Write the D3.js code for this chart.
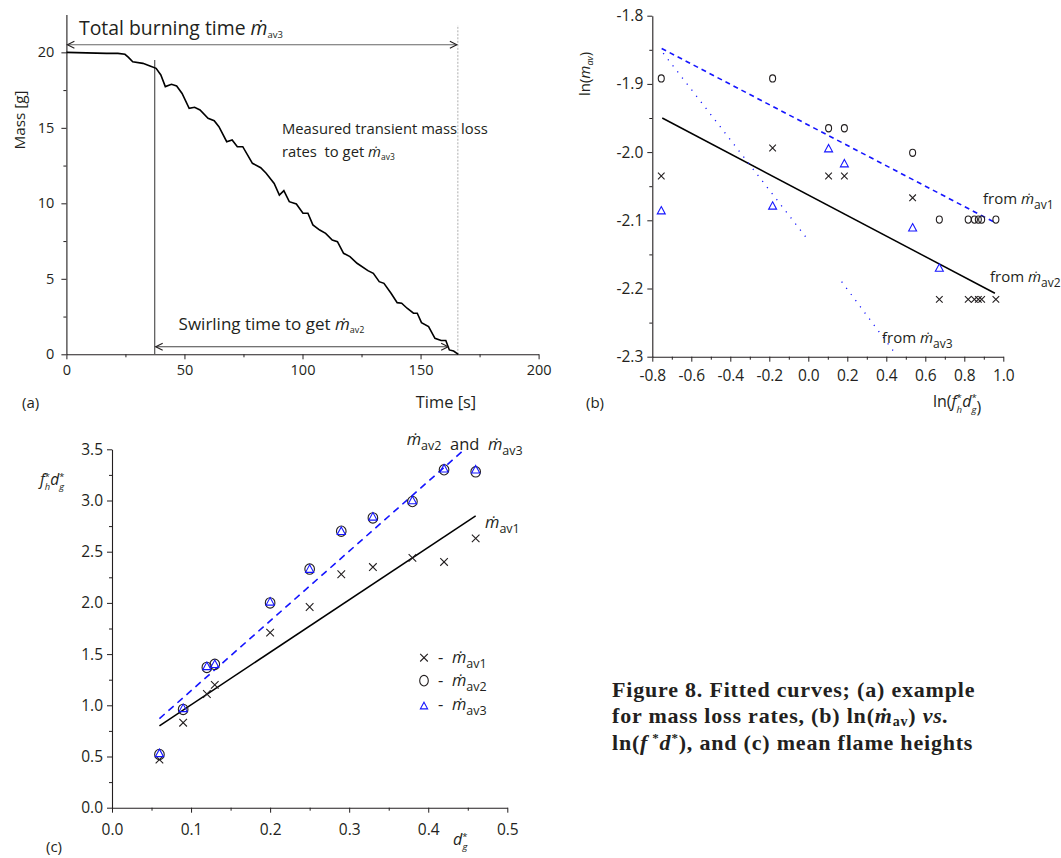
<!DOCTYPE html>
<html>
<head>
<meta charset="utf-8">
<script src="https://cdn.jsdelivr.net/npm/d3@7"></script>
<style>
  html, body { margin: 0; padding: 0; background: #fff; }
  text { white-space: pre; }
</style>
</head>
<body>
<script>
// ---------- data ----------
// (a) mass history of one test
var massTime  = [0, 17, 21.8, 24.8, 26.3, 28.1, 32.4, 35.4, 38, 40, 41.9, 44.5, 46.7, 49, 52, 54.3, 56.6, 60, 62.6, 64.6, 67.9, 70.2, 72.4, 74.7, 78.8, 82.3, 84.6, 88, 90.2, 92.1, 94.4, 97.4, 100.2, 102.3, 104.4, 107.3, 109.8, 112.6, 114.8, 117.4, 120.1, 123.1, 127.7, 130, 132.5, 134.5, 137.5, 140.1, 142, 144.3, 147, 148.6, 150.4, 153.4, 156.1, 158.7, 160.7, 162.2, 164, 166];
var massValue = [20, 19.93, 19.93, 19.87, 19.67, 19.38, 19.27, 19.1, 18.94, 18.5, 17.73, 17.88, 17.77, 17.28, 16.29, 16.36, 16.18, 15.63, 15.47, 15.08, 14.08, 14.2, 13.75, 13.75, 12.65, 12.36, 11.99, 11.32, 10.55, 10.84, 10.11, 9.96, 9.34, 9.34, 8.57, 8.23, 8.01, 7.57, 7.46, 6.69, 6.47, 6.03, 5.54, 5.36, 4.81, 4.7, 4.04, 3.42, 3.38, 3.05, 2.72, 2.72, 2.1, 1.83, 1.06, 0.91, 0.91, 0.29, 0.22, 0];
var swirlStart = 37.4, swirlEnd = 161.7, burnEnd = 165.8;
var swirlTop = 19.5, burnArrowMass = 20.5, swirlArrowMass = 0.5, burnLineTop = 21.8;

// (b) ln(m_av) vs ln(fh* dg*)
var lnFD      = [-0.754, -0.183, 0.104, 0.185, 0.535, 0.672, 0.820, 0.852, 0.872, 0.889, 0.962];
var lnAv1     = [-2.035, -1.994, -2.035, -2.035, -2.067, -2.216, -2.216, -2.216, -2.216, -2.216, -2.216];
var lnAv2     = [-1.892, -1.892, -1.965, -1.965, -2.001, -2.099, -2.099, -2.099, -2.099, -2.099, -2.099];
var lnAv3     = [-2.086, -2.079, -1.995, -2.017, -2.111, -2.170];
var fitB1     = [[-0.749, -1.950], [0.957, -2.207]];
var fitB2     = [[-0.752, -1.848], [0.949, -2.102]];
var fitB3a    = [[-0.744, -1.855], [-0.009, -2.126]];
var fitB3b    = [[0.171, -2.190], [0.453, -2.298]];

// (c) fh* dg* vs dg*
var dg        = [0.06, 0.09, 0.12, 0.13, 0.20, 0.25, 0.29, 0.33, 0.38, 0.42, 0.46];
var fdAv1     = [0.47, 0.83, 1.11, 1.20, 1.71, 1.96, 2.28, 2.35, 2.44, 2.40, 2.63];
var fdAv2     = [0.52, 0.96, 1.37, 1.40, 2.00, 2.33, 2.70, 2.83, 2.99, 3.30, 3.28];
var fdAv3     = [0.53, 0.97, 1.38, 1.40, 2.01, 2.33, 2.70, 2.84, 3.00, 3.31, 3.30];
var fitC1     = [[0.06, 0.80], [0.46, 2.85]];
var fitC2     = [[0.06, 0.87], [0.446, 3.5]];

var FONT = "'Open Sans', 'Noto Sans', sans-serif";
var INK  = "#231f20";
var BLUE = "#1515ff";

var svg = d3.select("body").append("svg")
    .attr("width", 1061)
    .attr("height", 858)
    .style("font-family", FONT);

// open arrow head
svg.append("defs").append("marker")
    .attr("id", "arrow")
    .attr("viewBox", "-8 -5 10 10")
    .attr("markerUnits", "userSpaceOnUse")
    .attr("markerWidth", 10).attr("markerHeight", 10)
    .attr("refX", 0).attr("refY", 0)
    .attr("orient", "auto-start-reverse")
    .append("path")
    .attr("d", "M-7,-3.5 L0,0 L-7,3.5")
    .attr("fill", "none")
    .attr("stroke", INK)
    .attr("stroke-width", 1.1);

// axes with major + minor ticks
function drawAxes(g, x, y, o) {
    g.append("g").attr("transform", "translate(0," + y.range()[0] + ")")
        .call(d3.axisBottom(x).tickValues(o.xMajor).tickFormat(o.xFmt).tickSize(5).tickSizeOuter(0).tickPadding(o.xPad));
    g.append("g").attr("transform", "translate(0," + y.range()[0] + ")")
        .call(d3.axisBottom(x).tickValues(o.xMinor).tickFormat("").tickSize(3))
        .select(".domain").remove();
    g.append("g").attr("transform", "translate(" + x.range()[0] + ",0)")
        .call(d3.axisLeft(y).tickValues(o.yMajor).tickFormat(o.yFmt).tickSize(5).tickSizeOuter(0).tickPadding(o.yPad));
    g.append("g").attr("transform", "translate(" + x.range()[0] + ",0)")
        .call(d3.axisLeft(y).tickValues(o.yMinor).tickFormat("").tickSize(3))
        .select(".domain").remove();
    g.selectAll(".domain").attr("stroke", INK).attr("stroke-width", 1.1);
    g.selectAll(".tick line").attr("stroke", INK);
    g.selectAll(".tick text").attr("fill", INK).style("font-family", FONT).style("font-size", o.fs + "px")
        .text(function() { return this.textContent.replace("−", "-"); });
}

// text with dotted m and subscript
function mdot(t, sub, fs, subFs, dy) {
    t.append("tspan").style("font-style", "italic").text("ṁ");
    t.append("tspan").attr("dy", dy).style("font-size", subFs + "px").text(sub);
    t.append("tspan").attr("dy", -dy).style("font-size", fs + "px").text("");
}

function label(g, x, y, fs) {
    return g.append("text").attr("x", x).attr("y", y).attr("fill", INK).style("font-size", fs + "px");
}

// ---------- (a) ----------
var ga = svg.append("g");
var xa = d3.scaleLinear().domain([0, 200]).range([66.4, 538.6]);
var ya = d3.scaleLinear().domain([0, 22.5]).range([354.3, 14.6]);

drawAxes(ga, xa, ya, {
    xMajor: [0, 50, 100, 150, 200], xMinor: [25, 75, 125, 175], xFmt: d3.format("d"), xPad: 5,
    yMajor: [0, 5, 10, 15, 20], yMinor: [2.5, 7.5, 12.5, 17.5], yFmt: d3.format("d"), yPad: 7, fs: 14.5
});

ga.append("line")
    .attr("x1", xa(burnEnd)).attr("x2", xa(burnEnd))
    .attr("y1", ya(0)).attr("y2", ya(burnLineTop))
    .attr("stroke", "#9a9a9a").attr("stroke-width", 0.8).attr("stroke-dasharray", "2,1.5");

ga.append("line")
    .attr("x1", xa(swirlStart)).attr("x2", xa(swirlStart))
    .attr("y1", ya(0)).attr("y2", ya(swirlTop))
    .attr("stroke", "#555").attr("stroke-width", 1.2);

ga.append("path")
    .datum(massTime.map(function(t, i) { return [t, massValue[i]]; }))
    .attr("d", d3.line().x(function(d) { return xa(d[0]); }).y(function(d) { return ya(d[1]); }))
    .attr("fill", "none").attr("stroke", "#000").attr("stroke-width", 1.6);

ga.append("line")
    .attr("x1", xa(0) + 1).attr("x2", xa(burnEnd) - 1)
    .attr("y1", ya(burnArrowMass)).attr("y2", ya(burnArrowMass))
    .attr("stroke", "#666").attr("stroke-width", 1.1)
    .attr("marker-start", "url(#arrow)").attr("marker-end", "url(#arrow)");

ga.append("line")
    .attr("x1", xa(swirlStart) + 1).attr("x2", xa(swirlEnd))
    .attr("y1", ya(swirlArrowMass)).attr("y2", ya(swirlArrowMass))
    .attr("stroke", "#444").attr("stroke-width", 1.1)
    .attr("marker-start", "url(#arrow)").attr("marker-end", "url(#arrow)");

var t = label(ga, 79, 35, 19.4);
t.append("tspan").text("Total burning time ");
mdot(t, "av3", 19.4, 9.5, 3);

label(ga, 282, 133.5, 14.8).text("Measured transient mass loss");
t = label(ga, 282, 157, 14.8);
t.append("tspan").text("rates  to get ");
mdot(t, "av3", 14.8, 8.5, 3);

t = label(ga, 178.6, 330, 17);
t.append("tspan").text("Swirling time to get ");
mdot(t, "av2", 17, 9, 3);

label(ga, 0, 0, 15.3).attr("transform", "translate(25,120) rotate(-90)").attr("text-anchor", "middle").text("Mass [g]");
label(ga, 446, 408, 16.4).attr("text-anchor", "middle").text("Time [s]");
label(ga, 22, 408, 15).text("(a)");

// ---------- (b) ----------
var gb = svg.append("g");
var xb = d3.scaleLinear().domain([-0.8, 1.0]).range([652.3, 1003.3]);
var yb = d3.scaleLinear().domain([-2.3, -1.8]).range([356.7, 15.7]);

drawAxes(gb, xb, yb, {
    xMajor: d3.range(-0.8, 1.01, 0.2), xMinor: d3.range(-0.7, 1.0, 0.2), xFmt: d3.format(".1f"), xPad: 8,
    yMajor: [-2.3, -2.2, -2.1, -2.0, -1.9, -1.8], yMinor: [-2.25, -2.15, -2.05, -1.95, -1.85], yFmt: d3.format(".1f"), yPad: 4, fs: 15.5
});

var lineB = d3.line().x(function(d) { return xb(d[0]); }).y(function(d) { return yb(d[1]); });
gb.append("path").attr("d", lineB(fitB1)).attr("fill", "none").attr("stroke", "#000").attr("stroke-width", 1.5);
gb.append("path").attr("d", lineB(fitB2)).attr("fill", "none").attr("stroke", BLUE).attr("stroke-width", 1.6).attr("stroke-dasharray", "5,4");
[fitB3a, fitB3b].forEach(function(seg) {
    gb.append("path").attr("d", lineB(seg)).attr("fill", "none").attr("stroke", BLUE)
        .attr("stroke-width", 1.3).attr("stroke-dasharray", "1.2,6.5");
});

// markers
function cross(g, cx, cy, r, col) {
    g.append("path").attr("d", "M" + (cx - r) + "," + (cy - r) + "L" + (cx + r) + "," + (cy + r) + "M" + (cx - r) + "," + (cy + r) + "L" + (cx + r) + "," + (cy - r))
        .attr("stroke", col).attr("stroke-width", 1.1).attr("fill", "none");
}
function ring(g, cx, cy, rx, ry, col) {
    g.append("ellipse").attr("cx", cx).attr("cy", cy).attr("rx", rx).attr("ry", ry)
        .attr("stroke", col).attr("stroke-width", 1.1).attr("fill", "none");
}
function tri(g, cx, cy, r, col) {
    g.append("path").attr("d", "M" + cx + "," + (cy - r) + "L" + (cx + r * 0.95) + "," + (cy + r * 0.75) + "L" + (cx - r * 0.95) + "," + (cy + r * 0.75) + "Z")
        .attr("stroke", col).attr("stroke-width", 1.1).attr("fill", "none");
}

lnFD.forEach(function(v, i) {
    cross(gb, xb(v), yb(lnAv1[i]), 3.3, INK);
    ring(gb, xb(v), yb(lnAv2[i]), 3, 3.6, INK);
});
lnAv3.forEach(function(v, i) { tri(gb, xb(lnFD[i]), yb(v), 4.2, BLUE); });

t = label(gb, 983, 204, 15); t.append("tspan").text("from "); mdot(t, "av1", 15, 12, 5);
t = label(gb, 990, 282, 15); t.append("tspan").text("from "); mdot(t, "av2", 15, 12, 5);
t = label(gb, 882, 343, 15); t.append("tspan").text("from "); mdot(t, "av3", 15, 12, 5);

t = label(gb, 0, 0, 15).attr("transform", "translate(590,74) rotate(-90)").attr("text-anchor", "middle");
t.append("tspan").text("ln(");
t.append("tspan").style("font-style", "italic").text("m");
t.append("tspan").attr("dy", 3).style("font-size", "9px").style("font-style", "italic").text("av");
t.append("tspan").attr("dy", -3).text(")");

function fhdg(t, fs) {
    var s = fs * 0.6;
    t.append("tspan").style("font-style", "italic").text("f");
    t.append("tspan").attr("dy", -fs * 0.35).style("font-size", s + "px").text("*");
    t.append("tspan").attr("dx", -s * 0.55).attr("dy", fs * 0.7).style("font-size", s + "px").style("font-style", "italic").text("h");
    t.append("tspan").attr("dy", -fs * 0.35).style("font-style", "italic").text("d");
    t.append("tspan").attr("dy", -fs * 0.35).style("font-size", s + "px").text("*");
    t.append("tspan").attr("dx", -s * 0.55).attr("dy", fs * 0.7).style("font-size", s + "px").style("font-style", "italic").text("g");
    t.append("tspan").attr("dy", -fs * 0.35).text("");
}
t = label(gb, 933, 407, 16);
t.append("tspan").text("ln(");
fhdg(t, 16);
t.append("tspan").text(")");
label(gb, 586, 408, 15).text("(b)");

// ---------- (c) ----------
var gc = svg.append("g");
var xc = d3.scaleLinear().domain([0, 0.5]).range([112, 507.3]);
var yc = d3.scaleLinear().domain([0, 3.5]).range([807.7, 449.3]);

drawAxes(gc, xc, yc, {
    xMajor: [0, 0.1, 0.2, 0.3, 0.4, 0.5], xMinor: [0.05, 0.15, 0.25, 0.35, 0.45], xFmt: d3.format(".1f"), xPad: 11,
    yMajor: [0, 0.5, 1, 1.5, 2, 2.5, 3, 3.5], yMinor: [0.25, 0.75, 1.25, 1.75, 2.25, 2.75, 3.25], yFmt: d3.format(".1f"), yPad: 4, fs: 15.5
});

var lineC = d3.line().x(function(d) { return xc(d[0]); }).y(function(d) { return yc(d[1]); });
gc.append("path").attr("d", lineC(fitC1)).attr("fill", "none").attr("stroke", "#000").attr("stroke-width", 1.5);
gc.append("path").attr("d", lineC(fitC2)).attr("fill", "none").attr("stroke", BLUE).attr("stroke-width", 1.6).attr("stroke-dasharray", "7,5");

dg.forEach(function(v, i) {
    cross(gc, xc(v), yc(fdAv1[i]), 3.8, INK);
    ring(gc, xc(v), yc(fdAv2[i]), 4.8, 5.2, INK);
    tri(gc, xc(v), yc(fdAv3[i]), 4.3, BLUE);
});

t = label(gc, 406.7, 445, 16.5); mdot(t, "av2", 16.5, 12.5, 5);
t.append("tspan").text("  and  "); mdot(t, "av3", 16.5, 12.5, 5);
t = label(gc, 485, 528.3, 16.5); mdot(t, "av1", 16.5, 12.5, 5);

// legend
var legendY = [657.7, 680.7, 705];
cross(gc, 424, legendY[0], 3.8, INK);
ring(gc, 424, legendY[1], 4.3, 5.3, INK);
tri(gc, 424, legendY[2] + 1, 3.8, BLUE);
["av1", "av2", "av3"].forEach(function(s, i) {
    var tt = label(gc, 438, legendY[i] + 5, 16.5);
    tt.append("tspan").text("-  ");
    mdot(tt, s, 16.5, 12.5, 5);
});

t = label(gc, 40, 485, 15.5);
fhdg(t, 15.5);
t = label(gc, 453, 845, 16);
t.append("tspan").style("font-style", "italic").text("d");
t.append("tspan").attr("dy", -5).style("font-size", "9.5px").text("*");
t.append("tspan").attr("dx", -5).attr("dy", 10).style("font-size", "9.5px").style("font-style", "italic").text("g");
label(gc, 46, 852, 15).text("(c)");

// ---------- caption ----------
var cap = svg.append("g").attr("fill", INK)
    .style("font-family", "'Liberation Serif', 'Times New Roman', serif")
    .style("font-weight", "bold").style("font-size", "22px")
    .style("letter-spacing", "0.8px");
cap.append("text").attr("x", 612).attr("y", 697).text("Figure 8. Fitted curves; (a) example");
var c2 = cap.append("text").attr("x", 612).attr("y", 723.3);
c2.append("tspan").text("for mass loss rates, (b) ln(");
c2.append("tspan").style("font-style", "italic").text("ṁ");
c2.append("tspan").attr("dy", 3).style("font-size", "14px").text("av");
c2.append("tspan").attr("dy", -3).text(") ");
c2.append("tspan").style("font-style", "italic").text("vs.");
var c3 = cap.append("text").attr("x", 612).attr("y", 750);
c3.append("tspan").text("ln(");
c3.append("tspan").style("font-style", "italic").text("f");
c3.append("tspan").attr("dy", -8).style("font-size", "13px").text(" *");
c3.append("tspan").attr("dy", 8).style("font-style", "italic").text("d");
c3.append("tspan").attr("dy", -8).style("font-size", "13px").text("*");
c3.append("tspan").attr("dy", 8).text("), and (c) mean flame heights");
</script>
</body>
</html>
